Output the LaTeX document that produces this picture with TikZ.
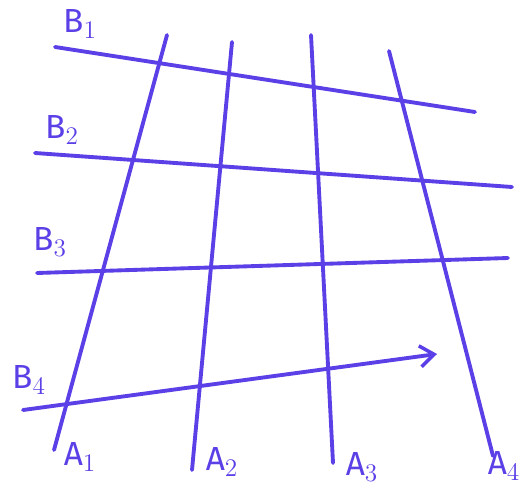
\documentclass[tikz,border=0pt]{standalone}
\usepackage{fontspec}
\setsansfont{Fira Sans}
\usetikzlibrary{arrows.meta}
\definecolor{cPen}{HTML}{5A40E6}
\tikzset{
  pen/.style={draw=cPen,line width=2.2pt,line cap=round},
  penarr/.style={pen,-{Straight Barb[length=8pt,width=12pt,line width=2pt]}},
  lbl/.style={text=cPen,font=\sffamily\fontsize{19}{22}\selectfont,inner sep=1pt},
}
\begin{document}
\begin{tikzpicture}[x=0.02cm,y=-0.02cm]
  \useasboundingbox (0,0) rectangle (526,486);
  % end points of the lines (pixel grid of the sketch)
  \coordinate (a1t) at (167,35);  \coordinate (a1b) at (54,450);
  \coordinate (a2t) at (232,42);  \coordinate (a2b) at (192,470);
  \coordinate (a3t) at (311,35);  \coordinate (a3b) at (333,463);
  \coordinate (a4t) at (389,51);  \coordinate (a4b) at (493,456);
  \coordinate (b1l) at (55,47);   \coordinate (b1r) at (475,112);
  \coordinate (b2l) at (35,153);  \coordinate (b2r) at (512,187);
  \coordinate (b3l) at (37,273);  \coordinate (b3r) at (508,258);
  \coordinate (b4l) at (23,410);  \coordinate (b4r) at (437,354);
  % A lines
  \draw[pen] (a1t) -- (a1b);
  \draw[pen] (a2t) -- (a2b);
  \draw[pen] (a3t) -- (a3b);
  \draw[pen] (a4t) -- (a4b);
  % B lines
  \draw[pen] (b1l) -- (b1r);
  \draw[pen] (b2l) -- (b2r);
  \draw[pen] (b3l) -- (b3r);
  \draw[penarr] (b4l) -- (b4r);
  % labels
  \node[lbl] (lb1) at (80,24) {B$_1$};
  \node[lbl] (lb2) at (62,130) {B$_2$};
  \node[lbl] (lb3) at (50,242) {B$_3$};
  \node[lbl] (lb4) at (29,380) {B$_4$};
  \node[lbl] (la1) at (80,457) {A$_1$};
  \node[lbl] (la2) at (222,462) {A$_2$};
  \node[lbl] (la3) at (362,467) {A$_3$};
  \node[lbl] (la4) at (504,466) {A$_4$};
\end{tikzpicture}
\end{document}
